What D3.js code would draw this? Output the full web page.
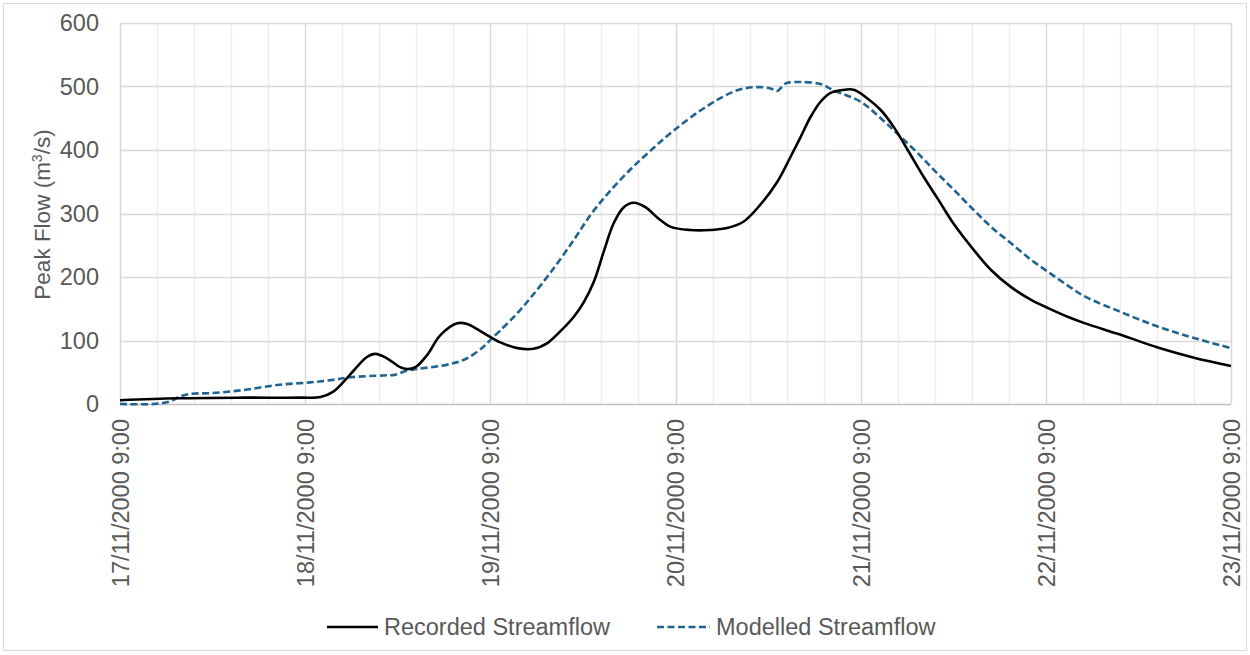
<!DOCTYPE html>
<html>
<head>
<meta charset="utf-8">
<script src="https://cdn.jsdelivr.net/npm/d3@7"></script>
<style>
  html, body { margin: 0; padding: 0; background: #fff; }
  svg { display: block; font-family: "Liberation Sans", Arial, sans-serif; }
</style>
</head>
<body>
<svg id="chart" width="1250" height="655"></svg>
<script>
// ---- Data (hours after 17/11/2000 9:00, flow in m3/s) ----
const startDate = new Date(Date.UTC(2000, 10, 17, 9, 0));
const tickDays = [0, 1, 2, 3, 4, 5, 6];
const yTicks = [0, 100, 200, 300, 400, 500, 600];
const seriesNames = ["Recorded Streamflow", "Modelled Streamflow"];

const recordedHours = [0, 7.4, 16, 23.4, 26, 27.6, 29.8, 32, 33.1, 34.6, 36.3, 37.2, 38.3, 39.8, 41.5, 43.7, 45, 47.1, 49.3, 51.5, 53.6, 55.4, 56.7, 58.8, 60.1, 61.4, 62.7, 64, 65.3, 66.6, 68.1, 69.7, 71.4, 73.9, 76.5, 78.7, 80.8, 83, 85.2, 86.9, 88.2, 89.5, 90.8, 92.1, 93.4, 95.1, 96.8, 98.6, 100.3, 102.1, 104.2, 106, 108.1, 110.7, 112.9, 115.5, 118.1, 120.3, 122.9, 125.1, 129.7, 134.5, 139.2, 144];
const recordedFlow  = [6, 9, 10, 10, 11, 19, 46, 74, 79, 72, 58, 55, 58, 77, 108, 127, 126, 112, 97, 88, 87, 96, 110, 137, 160, 192, 240, 285, 310, 317, 310, 293, 279, 274, 274, 277, 287, 314, 350, 389, 420, 452, 476, 490, 494, 495, 482, 463, 436, 400, 357, 323, 283, 242, 211, 184, 164, 151, 137, 127, 109, 89, 73, 60];

const modelledHours = [0, 4.3, 6.5, 7.8, 9.1, 11.7, 16, 20.4, 24.6, 27.6, 29.8, 34.1, 35.7, 37, 38.5, 42.8, 45, 47.1, 48, 49.3, 51.5, 53.2, 55.8, 58.8, 61, 63.2, 65.8, 68.4, 71.7, 76.2, 80, 82.4, 84.3, 85.2, 86.3, 88.2, 90.8, 92.5, 96, 98.6, 100.9, 103.4, 105.7, 108.1, 110.7, 112.9, 115.5, 118.1, 120.3, 122.9, 125.1, 129.7, 134.5, 139.2, 144];
const modelledFlow  = [0, 0, 4, 12, 16, 17, 22, 30, 34, 38, 42, 45, 46, 52, 55, 63, 72, 90, 101, 116, 143, 167, 207, 258, 298, 331, 365, 395, 430, 470, 494, 499, 497, 493, 505, 507, 504, 494, 476, 450, 424, 395, 366, 337, 305, 279, 253, 227, 208, 186, 169, 145, 122, 104, 88];

// ---- Layout ----
const svg = d3.select("#chart");
const plot = { left: 120, right: 1231, top: 23, bottom: 404 };
const textColor = "#595959";
const fontSize = 23.5;

const hourDate = h => new Date(startDate.getTime() + h * 3600 * 1000);

const x = d3.scaleUtc()
  .domain([startDate, hourDate(144)])
  .range([plot.left, plot.right]);
const y = d3.scaleLinear()
  .domain([0, 600])
  .range([plot.bottom, plot.top]);

// outer chart border
svg.append("rect")
  .attr("x", 3.5).attr("y", 3.5)
  .attr("width", 1243).attr("height", 647)
  .attr("fill", "none").attr("stroke", "#d9d9d9").attr("stroke-width", 1);

// minor vertical gridlines (every 4.8 h)
const minorTicks = d3.range(0, 31).map(i => hourDate(i * 4.8)).filter((d, i) => i % 5 !== 0);
svg.append("g").selectAll("line").data(minorTicks).join("line")
  .attr("x1", d => Math.round(x(d)) + 0.5).attr("x2", d => Math.round(x(d)) + 0.5)
  .attr("y1", plot.top).attr("y2", plot.bottom)
  .attr("stroke", "#ededed").attr("stroke-width", 1.5);

// major vertical gridlines
const dayTicks = tickDays.map(d => hourDate(d * 24));
svg.append("g").selectAll("line").data(dayTicks).join("line")
  .attr("x1", d => Math.round(x(d)) + 0.5).attr("x2", d => Math.round(x(d)) + 0.5)
  .attr("y1", plot.top).attr("y2", plot.bottom)
  .attr("stroke", "#d9d9d9").attr("stroke-width", 1.5);

// horizontal gridlines
svg.append("g").selectAll("line").data(yTicks).join("line")
  .attr("x1", plot.left).attr("x2", plot.right)
  .attr("y1", d => Math.round(y(d)) + 0.5).attr("y2", d => Math.round(y(d)) + 0.5)
  .attr("stroke", d => d === 0 ? "#bfbfbf" : "#d9d9d9").attr("stroke-width", 1.5);

// Y axis labels
const yAxis = d3.axisLeft(y).tickValues(yTicks).tickSize(0).tickPadding(21);
const gy = svg.append("g").attr("transform", `translate(${plot.left},0)`).call(yAxis);
gy.select(".domain").remove();
gy.selectAll("text")
  .attr("fill", textColor).attr("font-size", fontSize)
  .attr("font-family", "Liberation Sans, Arial, sans-serif");

// X axis labels (rotated)
const fmt = d3.utcFormat("%-d/%m/%Y %-H:%M");
const xAxis = d3.axisBottom(x).tickValues(dayTicks).tickFormat(fmt).tickSize(0);
const gx = svg.append("g").attr("transform", `translate(0,${plot.bottom})`).call(xAxis);
gx.select(".domain").remove();
gx.selectAll("text")
  .attr("fill", textColor).attr("font-size", fontSize)
  .attr("font-family", "Liberation Sans, Arial, sans-serif")
  .attr("text-anchor", "end")
  .attr("transform", "rotate(-90)")
  .attr("x", -15).attr("y", 0).attr("dy", "0.36em");

// Y axis title
const yt = svg.append("text")
  .attr("transform", `translate(50,${(plot.top + plot.bottom) / 2 + 1}) rotate(-90)`)
  .attr("text-anchor", "middle")
  .attr("fill", textColor).attr("font-size", 22.5);
yt.append("tspan").text("Peak Flow (m");
yt.append("tspan").text("3").attr("font-size", 14).attr("dy", "-0.55em");
yt.append("tspan").text("/s)").attr("dy", "0.36em");

// Lines
const line = d3.line()
  .x(d => x(hourDate(d[0])))
  .y(d => y(d[1]))
  .curve(d3.curveCatmullRom.alpha(0.5));

const recorded = d3.zip(recordedHours, recordedFlow);
const modelled = d3.zip(modelledHours, modelledFlow);

svg.append("path").datum(modelled)
  .attr("d", line)
  .attr("fill", "none").attr("stroke", "#1f6391")
  .attr("stroke-width", 2.6).attr("stroke-dasharray", "7,3.5");

svg.append("path").datum(recorded)
  .attr("d", line)
  .attr("fill", "none").attr("stroke", "#000")
  .attr("stroke-width", 2.6).attr("stroke-linejoin", "round");

// Legend
const legend = svg.append("g");
const legendItems = [
  { name: seriesNames[0], color: "#000", dash: null, x1: 327, x2: 378, tx: 384 },
  { name: seriesNames[1], color: "#1f6391", dash: "7,3.5", x1: 657, x2: 710, tx: 716 }
];
legendItems.forEach(it => {
  legend.append("line")
    .attr("x1", it.x1).attr("x2", it.x2).attr("y1", 627).attr("y2", 627)
    .attr("stroke", it.color).attr("stroke-width", 2.6)
    .attr("stroke-dasharray", it.dash);
  legend.append("text")
    .attr("x", it.tx).attr("y", 627).attr("dy", "0.35em")
    .attr("fill", textColor).attr("font-size", fontSize)
    .text(it.name);
});
</script>
</body>
</html>
